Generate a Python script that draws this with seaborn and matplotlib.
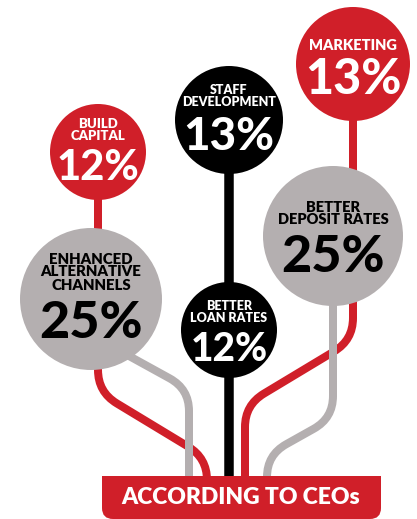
import numpy as np
import matplotlib
matplotlib.use("Agg")
import matplotlib.pyplot as plt
import seaborn as sns
import pandas as pd
from matplotlib.path import Path
from matplotlib.patches import PathPatch, FancyBboxPatch, Rectangle

# ---------------- data ----------------
categories = ["BUILD\nCAPITAL", "ENHANCED\nALTERNATIVE\nCHANNELS", "STAFF\nDEVELOPMENT",
              "BETTER\nLOAN RATES", "MARKETING", "BETTER\nDEPOSIT RATES"]
values = [12, 25, 13, 12, 13, 25]
groups = ["red", "gray", "black", "black", "red", "gray"]
footer = "ACCORDING TO CEOs"

# ---------------- styles / layout ----------------
RED, GRAY, BLACK = "#D01F29", "#B4AFB0", "#000000"
fill = {"red": RED, "gray": GRAY, "black": BLACK}
txtc = {"red": "white", "gray": "black", "black": "white"}

cx = [98, 91, 229, 229, 353, 333]
cy = [152, 299, 120, 330, 64, 236]
rad = [48, 71, 54, 48, 57, 70]
lab_y = [130, 272, 95.5, 312, 46, 213.5]
val_y = [164, 319, 133, 346, 76, 253]
lab_fs = [9.5, 10.8, 9, 9, 10.5, 10.5]
val_fs = [30, 37.5, 33, 28, 35, 37.5]

FONT = ["Lato", "DejaVu Sans"]

W, H = 417, 519
fig = plt.figure(figsize=(W / 100, H / 100), dpi=100)
ax = fig.add_axes([0, 0, 1, 1])

PX = 72 / 100  # px -> pt


def rounded(pts, r):
    pts = [np.array(p, float) for p in pts]
    verts, codes = [pts[0]], [Path.MOVETO]
    for i in range(1, len(pts) - 1):
        p0, p1, p2 = pts[i - 1], pts[i], pts[i + 1]
        d1 = (p1 - p0) / np.linalg.norm(p1 - p0)
        d2 = (p2 - p1) / np.linalg.norm(p2 - p1)
        verts += [p1 - d1 * r, p1, p1 + d2 * r]
        codes += [Path.LINETO, Path.CURVE3, Path.CURVE3]
    verts.append(pts[-1])
    codes.append(Path.LINETO)
    return Path(verts, codes)


connectors = [
    ([(98, 152), (98, 392), (207, 458), (207, 480)], RED, 8),
    ([(100, 340), (189, 389), (189, 480)], GRAY, 8),
    ([(229, 120), (229, 480)], BLACK, 9.5),
    ([(353, 64), (353, 340), (245, 405), (245, 480)], RED, 8),
    ([(333, 236), (333, 418), (267, 455), (267, 480)], GRAY, 8),
]
for pts, col, lw in connectors:
    ax.add_patch(PathPatch(rounded(pts, 22), fill=False, edgecolor=col,
                           linewidth=lw * PX, capstyle="butt", zorder=1))

# bubbles
df = pd.DataFrame({"x": cx, "y": cy, "cat": categories, "grp": groups})
sizes = [(2 * r * PX) ** 2 for r in rad]
sns.scatterplot(data=df, x="x", y="y", hue="cat",
                palette={c: fill[g] for c, g in zip(categories, groups)},
                s=sizes, linewidth=0, legend=False, ax=ax, zorder=3)
ax.set_xlim(0, W)
ax.set_ylim(H, 0)
ax.axis("off")

for i, cat in enumerate(categories):
    c = txtc[groups[i]]
    ax.text(cx[i], lab_y[i], cat, ha="center", va="center", color=c,
            fontsize=lab_fs[i], fontweight="heavy", family=FONT,
            linespacing=1.0, zorder=5)
    ax.text(cx[i], val_y[i], f"{values[i]}%", ha="center", va="center_baseline",
            color=c, fontsize=val_fs[i], fontweight="black", family=FONT, zorder=5)

# footer box (square top, rounded bottom)
ax.add_patch(FancyBboxPatch((102, 476), 279, 43, boxstyle="round,pad=0,rounding_size=11",
                            facecolor=RED, edgecolor="none", zorder=4))
ax.add_patch(Rectangle((102, 476), 279, 20, facecolor=RED, edgecolor="none", zorder=4))
ax.text(241, 498, footer, ha="center", va="center", color="white",
        fontsize=16.5, fontweight="heavy", family=FONT, zorder=5)

fig.savefig("out.png", dpi=100)
